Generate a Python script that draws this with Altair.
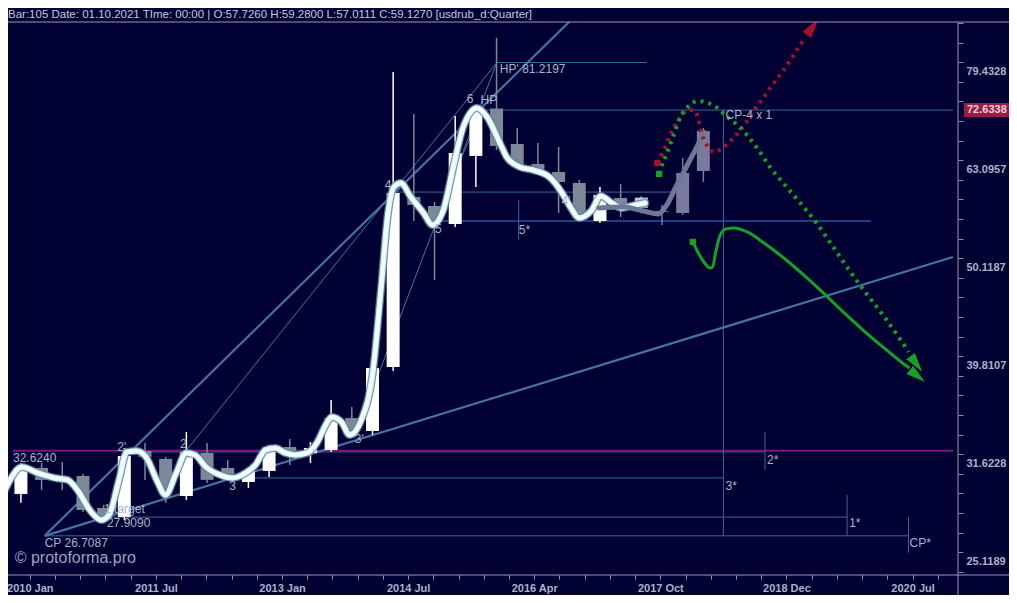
import altair as alt
import pandas as pd

BG = "#000033"
FONT = "Liberation Sans"
TXT = "#a9b3c9"
RED = "#a80f2a"
GREEN = "#12a322"

HEADER = "Bar:105 Date: 01.10.2021 TIme: 00:00 | O:57.7260 H:59.2800 L:57.0111 C:59.1270  [usdrub_d:Quarter]"

# ---- quarterly candles (bar index, OHLC) ----
bar_idx = list(range(34))
opens = [29.47, 31.33, 30.67, 30.74, 28.52, 27.92, 32.60, 32.00, 29.33, 32.45, 31.33, 30.31, 31.11, 32.91,
         32.45, 32.68, 35.23, 34.17, 39.72, 59.22, 57.98, 55.58, 65.21, 72.90, 67.07, 63.99, 62.80, 61.20,
         55.97, 59.08, 57.726, 57.30, 57.03, 62.95]
highs = [31.70, 31.70, 31.77, 30.89, 28.72, 32.83, 33.22, 32.15, 34.09, 33.22, 31.92, 31.33, 33.07, 33.54,
         33.30, 36.75, 36.16, 39.81, 79.43, 71.97, 58.53, 71.63, 73.51, 86.03, 69.64, 67.23, 66.60, 61.63,
         60.62, 61.05, 59.28, 58.12, 64.90, 69.64]
lows = [28.86, 29.75, 29.75, 28.25, 27.59, 27.72, 30.46, 28.86, 29.06, 30.24, 30.46, 29.89, 30.67, 31.55,
        31.70, 32.53, 33.85, 33.85, 39.35, 55.97, 48.73, 55.18, 60.62, 66.13, 63.39, 62.65, 57.03, 55.97,
        55.71, 56.50, 57.011, 55.44, 56.77, 61.34]
closes = [31.40, 30.46, 30.38, 28.38, 27.92, 32.22, 32.15, 29.75, 32.53, 30.46, 30.82, 31.11, 32.91, 32.53,
          32.83, 35.23, 34.01, 39.62, 59.78, 58.12, 55.71, 65.67, 72.90, 66.76, 63.84, 63.10, 61.34, 56.37,
          59.50, 57.71, 59.127, 57.17, 62.65, 69.15]
kinds = ["up", "down", "down", "down", "down", "up", "down", "down", "up", "down", "down", "up", "up", "down",
         "up", "up", "down", "up", "up", "down", "down", "up", "up", "down", "down", "down", "down", "down",
         "up", "down", "light", "fc", "fc", "fc"]
kind_domain = ["up", "down", "light", "fc"]
kind_colors = ["#ffffff", "#7d8898", "#c4c4dc", "#7a7a9e"]

# ---- smoothed line ----
sm_x = [-0.77, 0.05, 0.81, 1.63, 2.25, 2.73, 3.40, 3.88, 4.26, 4.74, 5.12, 5.60, 6.08, 6.56, 6.99, 7.51,
        7.99, 8.42, 8.95, 9.62, 10.24, 10.86, 11.34, 11.82, 12.30, 12.78, 13.25, 13.83, 14.31, 14.79, 15.02,
        15.50, 15.89, 16.46, 17.03, 17.42, 17.75, 18.04, 18.37, 18.85, 19.47, 19.90, 20.43, 20.91, 21.39,
        22.06, 22.54, 23.16, 23.49, 24.12, 24.74, 25.55, 26.17, 26.60, 26.99, 27.61, 28.04, 28.57, 29.04,
        29.71, 30.19]
sm_y = [29.75, 31.40, 30.96, 30.60, 30.46, 29.75, 28.25, 27.72, 28.05, 30.46, 32.53, 32.60, 32.07, 30.46,
        29.40, 30.96, 32.45, 32.30, 31.40, 30.82, 30.60, 30.96, 31.55, 32.68, 32.83, 32.45, 32.30, 32.45,
        33.22, 34.82, 35.32, 34.90, 33.85, 35.07, 39.44, 47.93, 57.03, 60.62, 61.20, 59.22, 57.03, 55.44,
        57.44, 63.54, 69.80, 73.00, 71.47, 67.23, 65.05, 63.54, 63.10, 62.07, 59.78, 57.71, 56.37, 57.44,
        59.36, 58.39, 57.71, 58.12, 58.39]

# ---- forecast (grey) line ----
gx = [27.94, 29.14, 30.10, 30.81, 31.20, 31.67, 32.25, 32.73, 33.01]
gy = [57.71, 57.84, 57.30, 56.90, 57.98, 60.62, 63.99, 66.91, 68.99]

# ---- dotted / solid scenario paths ----
red_x = [30.77, 31.05, 31.44, 31.87, 32.25, 32.49, 32.73, 32.87, 33.11, 33.54, 33.92, 34.50, 34.98, 35.46,
         35.93, 36.41, 36.89, 37.37, 37.90]
red_y = [64.14, 65.82, 68.83, 71.30, 72.65, 72.65, 71.47, 69.31, 67.23, 65.82, 66.44, 68.18, 70.13, 72.65,
         74.90, 77.41, 79.81, 82.67, 86.03]
grn_x = [30.86, 30.96, 31.20, 31.53, 31.87, 32.25, 32.73, 33.21, 33.68, 34.16, 34.64, 35.02, 35.60, 36.22,
         37.03, 37.85, 38.47, 39.28, 40.05, 40.86, 41.68, 42.44, 42.92]
grn_y = [62.51, 63.54, 65.36, 68.18, 71.30, 73.17, 74.20, 73.86, 73.00, 71.47, 70.13, 68.83, 66.44, 63.54,
         60.62, 57.84, 55.71, 52.65, 49.88, 47.26, 44.88, 42.62, 41.14]
sol_x = [32.49, 32.73, 33.06, 33.30, 33.45, 33.59, 33.78, 34.07, 34.50, 35.12, 35.93, 36.89, 37.85, 38.80,
         39.76, 40.72, 41.68, 42.63, 42.97]
sol_y = [53.28, 52.04, 50.71, 50.12, 50.24, 51.92, 53.90, 54.93, 55.06, 54.54, 53.15, 51.31, 49.30, 47.26,
         45.20, 43.32, 41.63, 40.09, 39.62]
red_arrow_x, red_arrow_y, red_arrow_ang = [38.28], [88.29], [36]
grn_arrow_x, grn_arrow_y, grn_arrow_ang = [43.30, 43.35], [40.00, 38.89], [143.5, 128.7]
red_start_x, red_start_y = [30.77], [64.14]
grn_start_x, grn_start_y = [30.86, 32.49], [62.51, 53.28]

# ---- horizontal levels ----
lv_x1 = [22.30, 23.01, 18.13, 5.07, 10.24, 4.02, 1.15]
lv_x2 = [45.072, 30.24, 31.87, 35.98, 33.97, 39.95, 42.92]
lv_y = [72.6338, 81.2197, 59.90, 32.53, 30.60, 27.909, 26.7087]
lv5_x1, lv5_x2, lv5_y = [19.81], [41.10], [55.97]
mag_y = [32.624]

# ---- vertical markers ----
vx = [24.07, 33.97, 35.98, 39.95, 42.92]
vy1 = [58.80, 72.6338, 34.09, 29.40, 27.909]
vy2 = [53.53, 26.7087, 31.18, 26.7087, 25.66]

# ---- trend lines (segment id, x, y) ----
thick_seg = ["A", "A", "B", "B"]
thick_x = [1.148, 26.75, 1.148, 45.07]
thick_y = [26.7087, 90.39, 26.7087, 51.43]
thin_seg = ["C", "C", "D", "D", "E", "E"]
thin_x = [7.943, 23.014, 16.12, 23.014, 19.95, 22.30]
thin_y = [32.53, 81.2197, 33.62, 81.2197, 55.71, 72.6338]

# ---- annotation labels ----
c_lab = ["2'", "2", "3", "3'", "4", "5", "6", "HP", "4'", "5*"]
c_x = [4.88, 7.85, 10.24, 16.36, 17.75, 20.19, 21.72, 22.63, 26.36, 24.35]
c_y = [32.91, 33.14, 30.00, 33.54, 60.90, 54.93, 74.55, 74.38, 58.66, 54.81]
l_lab = ["HP' 81.2197", "CP-4 x 1", "2*", "3*", "1*", "CP*", "CP  26.7087", "1 target", "27.9090", "32.6240"]
l_x = [23.16, 34.07, 36.08, 34.07, 40.05, 42.97, 1.15, 4.02, 4.16, -0.383]
l_y = [80.00, 71.80, 31.92, 30.03, 27.53, 26.27, 26.27, 28.45, 27.53, 32.07]
price_tag = [72.6338]

# ---- axes ----
x_labels = ["2010 Jan", "2011 Jul", "2013 Jan", "2014 Jul", "2016 Apr", "2017 Oct", "2018 Dec", "2020 Jul"]
x_first, x_step = 0.4306, 1.2196
x_ticks = [round(x_first + x_step * k, 4) for k in range(37)]
lab_expr = "''"
for k in range(len(x_labels) - 1, -1, -1):
    v = x_first + x_step * 5 * k
    lab_expr = f"abs(datum.value - {v:.4f}) < 0.05 ? '{x_labels[k]}' : ({lab_expr})"

y_major = [round(10 ** (1.4 + 0.1 * k), 4) for k in range(6)]
y_minor = [10 ** (1.39 + 0.02 * k) for k in range(29)]
y_ticks = sorted(y_major + y_minor)
is_major = "abs(log(datum.value)/LN10*10 - round(log(datum.value)/LN10*10)) < 0.01"

XS = alt.Scale(domain=[-0.383, 45.072], nice=False, zero=False)
YS = alt.Scale(type="log", domain=[24.36, 89.33], nice=False, zero=False)
XAX = alt.Axis(values=x_ticks, labelExpr=lab_expr, title=None, tickSize=4, tickColor="#9a9ab4",
               labelColor=TXT, labelFontSize=11, labelFontWeight="bold", labelPadding=3,
               labelOverlap=False, labelFlush=False, domain=False, grid=False)
YAX = alt.Axis(values=y_ticks, orient="right", title=None, tickSize=5,
               tickColor={"condition": {"test": is_major, "value": "#05050f"}, "value": "#8c8ca8"},
               labelExpr=f"{is_major} ? format(datum.value, '.4f') : ''",
               labelColor=TXT, labelFontSize=11, labelFontWeight="bold", labelPadding=3,
               labelOverlap=False, domain=False, grid=False)


def X(f):
    return alt.X(f"{f}:Q", scale=XS, axis=XAX)


def Y(f):
    return alt.Y(f"{f}:Q", scale=YS, axis=YAX)


COLOR = alt.Color("k:N", scale=alt.Scale(domain=kind_domain, range=kind_colors), legend=None)

cdf = pd.DataFrame(dict(i=bar_idx, o=opens, h=highs, l=lows, c=closes, k=kinds))
lv = pd.DataFrame(dict(x1=lv_x1, x2=lv_x2, y=lv_y))
lv5 = pd.DataFrame(dict(x1=lv5_x1, x2=lv5_x2, y=lv5_y))
mag = pd.DataFrame(dict(x1=[-0.383], x2=[45.072], y=mag_y))
vdf = pd.DataFrame(dict(x=vx, y1=vy1, y2=vy2))
thick = pd.DataFrame(dict(s=thick_seg, x=thick_x, y=thick_y))
thin = pd.DataFrame(dict(s=thin_seg, x=thin_x, y=thin_y))
smooth = pd.DataFrame(dict(x=sm_x, y=sm_y))
gdf = pd.DataFrame(dict(x=gx, y=gy))
rdf = pd.DataFrame(dict(x=red_x, y=red_y))
gdd = pd.DataFrame(dict(x=grn_x, y=grn_y))
sdf = pd.DataFrame(dict(x=sol_x, y=sol_y))
radf = pd.DataFrame(dict(x=red_arrow_x, y=red_arrow_y, a=red_arrow_ang))
gadf = pd.DataFrame(dict(x=grn_arrow_x, y=grn_arrow_y, a=grn_arrow_ang))
rsdf = pd.DataFrame(dict(x=red_start_x, y=red_start_y))
gsdf = pd.DataFrame(dict(x=grn_start_x, y=grn_start_y))
cl = pd.DataFrame(dict(t=c_lab, x=c_x, y=c_y))
ll = pd.DataFrame(dict(t=l_lab, x=l_x, y=l_y))
tag = pd.DataFrame(dict(y=price_tag, t=[f"{v:.4f}" for v in price_tag]))
wm = pd.DataFrame(dict(t=["\u00a9 protoforma.pro"], x=[-0.30], y=[25.36]))

ARROW = "M0,-1L0.55,1L-0.55,1Z"

layers = []
# level lines
layers.append(alt.Chart(lv).mark_rule(color="#3b679c", strokeWidth=1).encode(x=X("x1"), x2="x2", y=Y("y")))
layers.append(alt.Chart(lv5).mark_rule(color="#1d3f86", strokeWidth=2).encode(x=X("x1"), x2="x2", y=Y("y")))
layers.append(alt.Chart(mag).mark_rule(color="#7b1680", strokeWidth=2).encode(x=X("x1"), x2="x2", y=Y("y")))
layers.append(alt.Chart(vdf).mark_rule(color="#3b679c", strokeWidth=1).encode(x=X("x"), y=Y("y1"), y2="y2"))
layers.append(alt.Chart(thick).mark_line(color="#4672a4", strokeWidth=2.2, clip=True).encode(
    x=X("x"), y=Y("y"), detail="s:N"))
layers.append(alt.Chart(thin).mark_line(color="#4672a4", strokeWidth=1, clip=True).encode(
    x=X("x"), y=Y("y"), detail="s:N"))
# candles
layers.append(alt.Chart(cdf).mark_rule(strokeWidth=1.5).encode(x=X("i"), y=Y("l"), y2="h", color=COLOR))
layers.append(alt.Chart(cdf).mark_bar(width=13).encode(x=X("i"), y=Y("o"), y2="c", color=COLOR))
# smoothed curve with glow
for w, col, op in [(8, "#6f7f99", 0.85), (5.5, "#d4fbff", 1.0), (2.2, "#ffffff", 1.0)]:
    layers.append(alt.Chart(smooth).mark_line(interpolate="monotone", strokeWidth=w, color=col, opacity=op,
                                              strokeCap="round", clip=True).encode(x=X("x"), y=Y("y")))
layers.append(alt.Chart(gdf).mark_line(interpolate="monotone", strokeWidth=5, color="#6c7896",
                                       strokeCap="round", clip=True).encode(x=X("x"), y=Y("y")))
# scenarios
layers.append(alt.Chart(rdf).mark_line(interpolate="monotone", strokeWidth=4, color=RED,
                                       strokeDash=[3, 5], clip=True).encode(x=X("x"), y=Y("y")))
layers.append(alt.Chart(gdd).mark_line(interpolate="monotone", strokeWidth=4, color=GREEN,
                                       strokeDash=[3, 5], clip=True).encode(x=X("x"), y=Y("y")))
layers.append(alt.Chart(sdf).mark_line(interpolate="monotone", strokeWidth=3, color=GREEN,
                                       clip=True).encode(x=X("x"), y=Y("y")))
layers.append(alt.Chart(radf).mark_point(shape=ARROW, size=380, filled=True, opacity=1, color=RED,
                                         clip=True).encode(x=X("x"), y=Y("y"), angle=alt.Angle("a:Q", scale=None)))
layers.append(alt.Chart(gadf).mark_point(shape=ARROW, size=380, filled=True, opacity=1, color=GREEN,
                                         clip=True).encode(x=X("x"), y=Y("y"), angle=alt.Angle("a:Q", scale=None)))
layers.append(alt.Chart(rsdf).mark_point(shape="square", size=40, filled=True, opacity=1, color=RED).encode(
    x=X("x"), y=Y("y")))
layers.append(alt.Chart(gsdf).mark_point(shape="square", size=40, filled=True, opacity=1, color=GREEN).encode(
    x=X("x"), y=Y("y")))
# labels
layers.append(alt.Chart(cl).mark_text(align="center", baseline="middle", font=FONT, fontSize=12,
                                      color=TXT).encode(x=X("x"), y=Y("y"), text="t:N"))
layers.append(alt.Chart(ll).mark_text(align="left", baseline="middle", font=FONT, fontSize=12,
                                      color=TXT).encode(x=X("x"), y=Y("y"), text="t:N"))
layers.append(alt.Chart(wm).mark_text(align="left", baseline="middle", font=FONT, fontSize=16,
                                      color="#9aa4bc").encode(x=X("x"), y=Y("y"), text="t:N"))
# price tag and frame lines
layers.append(alt.Chart(tag).mark_rule(color="#9b1b45", strokeWidth=14).encode(
    x=alt.value(956), x2=alt.value(1001), y=Y("y")))
layers.append(alt.Chart(tag).mark_text(align="left", baseline="middle", font=FONT, fontSize=11,
                                       fontWeight="bold", color="#e8d2dc").encode(
    x=alt.value(959), y=Y("y"), text="t:N"))
layers.append(alt.Chart(tag).mark_rule(color="#9a9ab4", strokeWidth=1).encode(
    x=alt.value(0), x2=alt.value(1001), y=alt.value(0)))
layers.append(alt.Chart(tag).mark_rule(color="#9a9ab4", strokeWidth=1).encode(
    x=alt.value(0), x2=alt.value(1001), y=alt.value(553)))
layers.append(alt.Chart(tag).mark_rule(color="#9a9ab4", strokeWidth=1).encode(
    x=alt.value(950), y=alt.value(0), y2=alt.value(573)))
layers.append(alt.Chart(tag).mark_text(align="left", baseline="middle", font=FONT, fontSize=11.5,
                                       color="#c8c8d8").encode(
    x=alt.value(0), y=alt.value(-7), text=alt.value(HEADER)))

chart = alt.layer(*layers).properties(
    width=950, height=553, background=BG,
    padding={"left": 0, "top": 14, "right": 51, "bottom": 20},
    autosize=alt.AutoSizeParams(type="none"),
).configure_view(stroke=None).configure_axis(labelFont=FONT)

chart.save("out.html", embed_options={"renderer": "svg", "actions": False})
